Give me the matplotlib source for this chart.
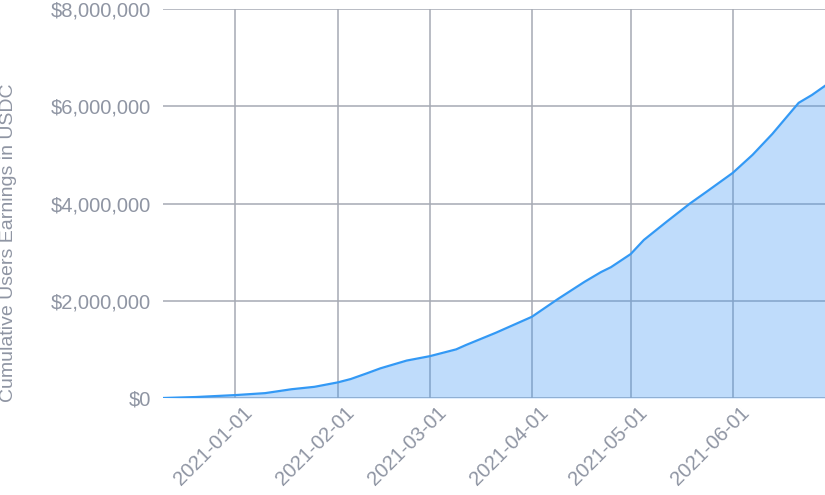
import matplotlib
matplotlib.use("Agg")
import matplotlib.pyplot as plt
import matplotlib.dates as mdates
import matplotlib.ticker as mticker
import matplotlib.transforms as mtransforms
import numpy as np
import pandas as pd

dates = ["2020-12-10", "2020-12-20", "2021-01-01", "2021-01-10", "2021-01-18",
         "2021-01-25", "2021-02-01", "2021-02-05", "2021-02-10", "2021-02-14",
         "2021-02-22", "2021-03-01", "2021-03-09", "2021-03-12", "2021-03-21",
         "2021-04-01", "2021-04-09", "2021-04-17", "2021-04-22", "2021-04-25",
         "2021-05-01", "2021-05-05", "2021-05-12", "2021-05-19", "2021-05-24",
         "2021-06-01", "2021-06-07", "2021-06-13", "2021-06-21",
         "2021-06-25", "2021-06-29"]
earnings = [0, 20000, 60000, 100000, 180000,
            230000, 320000, 390000, 510000, 610000,
            770000, 860000, 1000000, 1090000, 1340000,
            1670000, 2040000, 2390000, 2590000, 2690000,
            2960000, 3250000, 3630000, 4000000, 4240000,
            4630000, 5000000, 5430000, 6070000,
            6230000, 6420000]
tick_dates = ["2021-01-01", "2021-02-01", "2021-03-01", "2021-04-01",
              "2021-05-01", "2021-06-01"]
y_ticks = [0, 2000000, 4000000, 6000000, 8000000]
y_label = "Cumulative Users Earnings in USDC"

x = pd.to_datetime(dates)
y = np.array(earnings, dtype=float)

plt.rcParams['font.family'] = ['Liberation Sans', 'DejaVu Sans']
txt = '#8f95a3'
grid = '#a6aab4'

fig = plt.figure(figsize=(8.25, 4.95), dpi=100)
ax = fig.add_axes([163/825, 1 - 398/495, 1 - 163/825, (398 - 9)/495])

ax.set_xlim(x[0], x[-1])
ax.set_ylim(0, 8000000)

ax.fill_between(x, y, 0, color='#3d97f5', alpha=0.33, lw=0, zorder=3)
ax.plot(x, y, color='#3399f5', lw=1.6, zorder=4)

ax.set_yticks(y_ticks)
ax.yaxis.set_major_formatter(mticker.FuncFormatter(lambda v, p: f"${v:,.0f}"))
ax.set_xticks(pd.to_datetime(tick_dates))
ax.xaxis.set_major_formatter(mdates.DateFormatter('%Y-%m-%d'))

ax.grid(True, color=grid, lw=1.1, zorder=1)
ax.set_axisbelow(True)
for s in ax.spines.values():
    s.set_visible(False)

ax.tick_params(axis='both', length=0, labelsize=14.5, labelcolor=txt)
ax.tick_params(axis='y', pad=8.5)
ax.tick_params(axis='x', pad=4)

offset = mtransforms.ScaledTranslation(14/100, -6/100, fig.dpi_scale_trans)
for lbl in ax.get_xticklabels():
    lbl.set_rotation(45)
    lbl.set_ha('right')
    lbl.set_va('center')
    lbl.set_rotation_mode('anchor')
    lbl.set_transform(lbl.get_transform() + offset)

ax.set_ylabel(y_label, fontsize=14, color=txt)
ax.yaxis.set_label_coords((17 - 163) / (825 - 163), (398 - 243) / (398 - 9))

fig.savefig('out.png', dpi=100)
